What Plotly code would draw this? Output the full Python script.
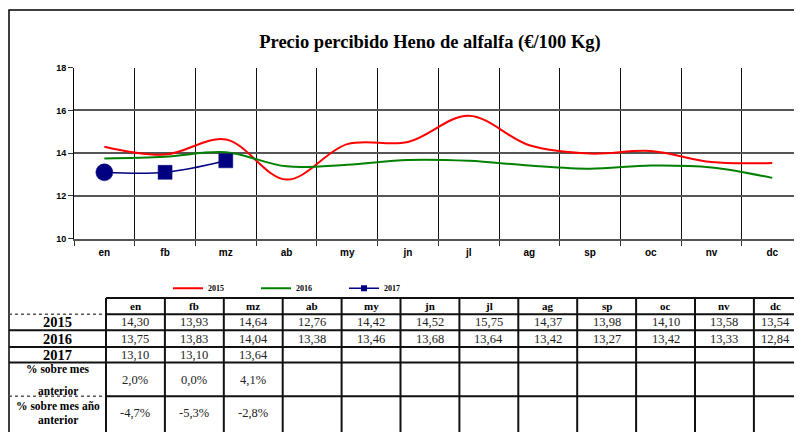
import plotly.graph_objects as go

months = ["en", "fb", "mz", "ab", "my", "jn", "jl", "ag", "sp", "oc", "nv", "dc"]
v2015 = [14.30, 13.93, 14.64, 12.76, 14.42, 14.52, 15.75, 14.37, 13.98, 14.10, 13.58, 13.54]
v2016 = [13.75, 13.83, 14.04, 13.38, 13.46, 13.68, 13.64, 13.42, 13.27, 13.42, 13.33, 12.84]
v2017 = [13.10, 13.10, 13.64]
pct_prev_month = ["2,0%", "0,0%", "4,1%"]
pct_prev_year = ["-4,7%", "-5,3%", "-2,8%"]
row_labels = [["2015"], ["2016"], ["2017"], ["% sobre mes", "anterior"], ["% sobre mes año", "anterior"]]
title_text = "Precio percibido Heno de alfalfa (€/100 Kg)"

# the page body has an 8px margin: the figure is sized to fill the rest of the window
OFF = 8
W, H = 802 - OFF, 432 - OFF


def px(x):
    return (x - OFF) / W


def py(y):
    return 1 - (y - OFF) / H


fig = go.Figure()
fig.add_trace(go.Scatter(x=months, y=v2015, name="2015", mode="lines",
                         line=dict(color="#FF0000", width=2, shape="spline", smoothing=1.0)))
fig.add_trace(go.Scatter(x=months, y=v2016, name="2016", mode="lines",
                         line=dict(color="#008000", width=2, shape="spline", smoothing=1.0)))
fig.add_trace(go.Scatter(x=months[:len(v2017)], y=v2017, name="2017", mode="lines+markers",
                         showlegend=False,
                         line=dict(color="#000080", width=1.5, shape="spline", smoothing=1.0),
                         marker=dict(color="#000080", symbol=["circle", "square", "square"],
                                     size=[17, 14, 14], opacity=1,
                                     line=dict(color="#000080", width=0.5))))
fig.add_trace(go.Scatter(x=[None], y=[None], name="2017", mode="lines+markers",
                         line=dict(color="#000080", width=1.5),
                         marker=dict(color="#000080", symbol="square", size=6, opacity=1)))

shapes = []
annotations = []

# outer frame
shapes.append(dict(type="rect", xref="paper", yref="paper", x0=px(9), x1=px(812),
                   y0=py(445), y1=py(5), line=dict(color="black", width=1.5)))

# table geometry
bounds = [106 + i * 58.9 for i in range(12)] + [798]
row_y = [300, 316.5, 333, 350, 366, 400.5, 440]
left = 9
lc = "#111111"
shapes.append(dict(type="line", xref="paper", yref="paper", x0=px(106), x1=px(812),
                   y0=py(row_y[0]), y1=py(row_y[0]), line=dict(color=lc, width=2)))
for k, yy in enumerate(row_y[1:-1]):
    shapes.append(dict(type="line", xref="paper", yref="paper", x0=px(106), x1=px(812),
                       y0=py(yy), y1=py(yy), line=dict(color=lc, width=2)))
    dotted = k in (0, 4)
    shapes.append(dict(type="line", xref="paper", yref="paper", x0=px(left), x1=px(106),
                       y0=py(yy), y1=py(yy),
                       line=dict(color="#555555" if dotted else lc, width=1.5 if dotted else 2,
                                 dash="dot" if dotted else "solid")))
for b in bounds[:-1]:
    shapes.append(dict(type="line", xref="paper", yref="paper", x0=px(b), x1=px(b),
                       y0=py(row_y[0]), y1=py(445), line=dict(color=lc, width=2)))

serif = "Liberation Serif"
for i, m in enumerate(months):
    cx = (bounds[i] + bounds[i + 1]) / 2
    annotations.append(dict(x=px(cx), y=py((row_y[0] + row_y[1]) / 2), xref="paper", yref="paper",
                            text=m, showarrow=False, xanchor="center", yanchor="middle",
                            font=dict(family=serif, size=11, color="black", weight="bold")))

rows = [[f"{v:.2f}".replace(".", ",") for v in v2015],
        [f"{v:.2f}".replace(".", ",") for v in v2016],
        [f"{v:.2f}".replace(".", ",") for v in v2017],
        pct_prev_month, pct_prev_year]
label_line_y = [[324.5], [341.5], [358], [373, 395], [410, 425]]
value_y = [324.5, 341.5, 358, 384, 418]
for r, vals in enumerate(rows):
    big = r < 3
    for line_text, ly in zip(row_labels[r], label_line_y[r]):
        annotations.append(dict(x=px((left + 106) / 2), y=py(ly), xref="paper", yref="paper",
                                text=line_text, showarrow=False, xanchor="center", yanchor="middle",
                                font=dict(family=serif, size=14.5 if big else 11.5, color="black",
                                          weight="bold")))
    for i, t in enumerate(vals):
        cx = (bounds[i] + bounds[i + 1]) / 2
        annotations.append(dict(x=px(cx), y=py(value_y[r]), xref="paper", yref="paper",
                                text=t, showarrow=False, xanchor="center", yanchor="middle",
                                font=dict(family=serif, size=12.5, color="#222222")))

fig.update_layout(
    width=W, height=H,
    margin=dict(l=0, r=0, t=0, b=0),
    paper_bgcolor="white", plot_bgcolor="white",
    title=dict(text=title_text, x=px(430), y=py(37), xref="paper", yref="paper",
               xanchor="center", yanchor="middle",
               font=dict(family=serif, size=18.5, color="black", weight="bold")),
    xaxis=dict(domain=[px(74), 1.0], type="category", categoryorder="array", categoryarray=months,
               range=[-0.5, 11.49], tickson="boundaries", showgrid=True, gridcolor="#111111",
               gridwidth=1, ticks="outside", ticklen=5, tickcolor="#333333", showline=True,
               linecolor="#555555", linewidth=2, ticklabelstandoff=3,
               tickfont=dict(family="Liberation Sans", size=10, color="black", weight="bold"),
               zeroline=False, fixedrange=True),
    yaxis=dict(domain=[py(239), py(64)], range=[10, 18], dtick=2, tick0=10, showgrid=True,
               gridcolor="#555555", gridwidth=1.5, ticks="outside", ticklen=5, tickcolor="#333333",
               showline=True, linecolor="black", linewidth=1, zeroline=False,
               tickfont=dict(family="Liberation Sans", size=9, color="black", weight="bold")),
    legend=dict(orientation="h", x=px(168), y=py(290), xanchor="left", yanchor="middle",
                font=dict(family=serif, size=8, color="black", weight="bold"),
                entrywidth=43, entrywidthmode="pixels", bgcolor="rgba(0,0,0,0)",
                itemwidth=30, tracegroupgap=0),
    shapes=shapes,
    annotations=annotations,
    showlegend=True,
)

fig.write_html("out.html")
